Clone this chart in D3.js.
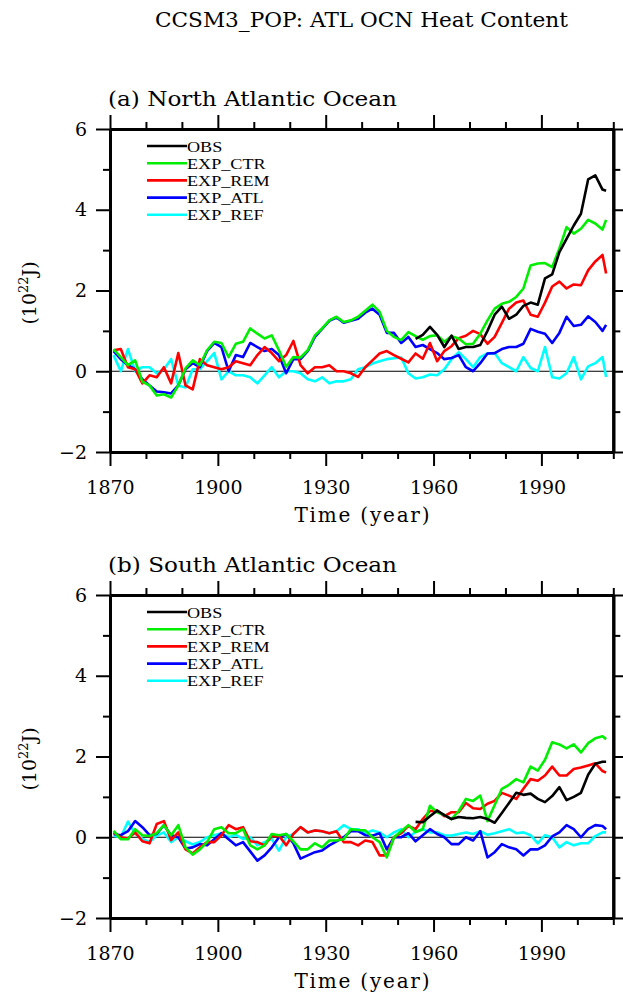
<!DOCTYPE html>
<html>
<head>
<meta charset="utf-8">
<script src="https://cdn.jsdelivr.net/npm/d3@7"></script>
<style>
  body { margin: 0; background: #fff; }
  svg { display: block; }
</style>
</head>
<body>
<div id="wrap"></div>
<script>
// years: odd years 1871..2007 plus the last year 2008
var years = d3.range(1871, 2008, 2).concat([2008]);

var seriesNames = ["OBS", "EXP_CTR", "EXP_REM", "EXP_ATL", "EXP_REF"];
var seriesColors = ["#000000", "#00ee00", "#ff0000", "#0000ff", "#00ffff"];

var xTicksMajor = [1870, 1900, 1930, 1960, 1990];
var xTicksMinor = [1880, 1890, 1910, 1920, 1940, 1950, 1970, 1980, 2000, 2010];
var yTicksMajor = [-2, 0, 2, 4, 6];
var yTicksMinor = [-1, 1, 3, 5];

var N = null;

// (a) North Atlantic
var obsA = [
  N, N, N, N, N, N, N, N, N, N,
  N, N, N, N, N, N, N, N, N, N,
  N, N, N, N, N, N, N, N, N, N,
  N, N, N, N, N, N, N, N, N, N,
  N, N, 0.8, 0.9, 1.1, 0.9, 0.6, 0.88, 0.55, 0.6,
  0.6, 0.65, 1.0, 1.4, 1.6, 1.3, 1.4, 1.62, 1.7, 1.65,
  2.3, 2.4, 2.95, 3.28, 3.61, 3.9, 4.75, 4.85, 4.5, 4.47];
var ctrA = [
  0.54, 0.35, 0.15, 0.27, -0.26, -0.35, -0.6, -0.57, -0.65, -0.35,
  0.07, 0.27, 0.15, 0.52, 0.73, 0.70, 0.35, 0.68, 0.73, 1.06,
  0.93, 0.81, 0.89, 0.52, 0.11, 0.35, 0.34, 0.52, 0.89, 1.06,
  1.26, 1.35, 1.22, 1.26, 1.35, 1.5, 1.65, 1.47, 1.0, 0.85,
  0.77, 0.97, 0.87, 0.78, 0.87, 0.89, 0.73, 0.87, 0.81, 0.67,
  0.68, 0.93, 1.26, 1.55, 1.67, 1.72, 1.84, 2.05, 2.62, 2.67,
  2.68, 2.58, 3.04, 3.57, 3.41, 3.53, 3.75, 3.66, 3.51, 3.75];
var remA = [
  0.52, 0.55, 0.1, 0.05, -0.3, -0.1, -0.15, 0.1, -0.3, 0.45,
  -0.35, -0.45, 0.3, 0.15, 0.1, 0.05, 0.1, 0.25, 0.2, 0.15,
  0.4, 0.6, 0.45, 0.25, 0.4, 0.75, 0.15, -0.05, 0.1, 0.1,
  0.15, 0.0, 0.0, -0.05, -0.14, 0.1, 0.27, 0.44, 0.5, 0.4,
  0.31, 0.22, 0.44, 0.31, 0.7, 0.25, 0.5, 0.62, 0.82, 0.88,
  1.0, 0.92, 0.68, 0.85, 1.2, 1.55, 1.7, 1.75, 1.4, 1.35,
  1.7, 2.1, 2.22, 2.05, 2.15, 2.13, 2.5, 2.72, 2.88, 2.42];
var atlA = [
  0.5, 0.3, 0.15, 0.05, -0.2, -0.35, -0.5, -0.52, -0.55, -0.35,
  0.05, 0.2, 0.1, 0.5, 0.7, 0.6, 0.0, 0.4, 0.35, 0.7,
  0.6, 0.5, 0.55, 0.4, -0.05, 0.3, 0.3, 0.5, 0.85, 1.05,
  1.25, 1.33, 1.2, 1.25, 1.3, 1.45, 1.55, 1.4, 0.95, 0.95,
  0.7, 0.85, 0.6, 0.65, 0.55, 0.45, 0.3, 0.33, 0.4, 0.1,
  0.0, 0.2, 0.44, 0.45, 0.55, 0.6, 0.6, 0.68, 1.05, 0.98,
  0.93, 0.7, 0.95, 1.35, 1.12, 1.15, 1.36, 1.22, 1.0, 1.15];
var refA = [
  0.4, 0.0, 0.55, 0.0, 0.1, 0.1, -0.05, 0.05, 0.3, -0.35,
  -0.4, 0.05, 0.05, 0.25, 0.45, -0.2, 0.0, -0.1, -0.1, -0.15,
  -0.3, -0.1, 0.1, -0.15, 0.0, 0.0, -0.05, -0.2, -0.25, -0.15,
  -0.3, -0.25, -0.25, -0.2, 0.05, 0.1, 0.19, 0.25, 0.3, 0.32,
  0.34, -0.05, -0.18, -0.15, -0.08, -0.1, 0.05, 0.3, 0.47, 0.3,
  0.1, 0.35, 0.44, 0.45, 0.2, 0.1, 0.0, 0.35, 0.08, 0.0,
  0.6, -0.15, -0.18, -0.05, 0.35, -0.2, 0.12, 0.2, 0.35, -0.14];

// (b) South Atlantic
var obsB = [
  N, N, N, N, N, N, N, N, N, N,
  N, N, N, N, N, N, N, N, N, N,
  N, N, N, N, N, N, N, N, N, N,
  N, N, N, N, N, N, N, N, N, N,
  N, N, 0.38, 0.37, 0.52, 0.66, 0.55, 0.45, 0.5, 0.48,
  0.47, 0.5, 0.45, 0.36, 0.6, 0.85, 1.1, 1.05, 1.08, 0.95,
  0.87, 1.02, 1.24, 0.92, 1.0, 1.1, 1.55, 1.82, 1.87, 1.87];
var ctrB = [
  0.16, -0.05, -0.05, 0.2, 0.05, 0.03, 0.1, 0.3, 0.05, 0.3,
  -0.25, -0.43, -0.3, -0.12, 0.2, 0.25, 0.1, 0.1, 0.2, -0.2,
  -0.3, -0.2, 0.08, 0.05, 0.08, -0.1, -0.3, -0.3, -0.15, -0.25,
  -0.08, -0.08, -0.05, 0.2, 0.18, 0.17, 0.0, -0.12, -0.5, 0.0,
  0.15, 0.3, 0.13, 0.2, 0.78, 0.62, 0.55, 0.45, 0.65, 0.95,
  0.9, 1.03, 0.4, 0.8, 1.2, 1.3, 1.44, 1.36, 1.75, 1.65,
  1.92, 2.35, 2.3, 2.2, 2.3, 2.1, 2.33, 2.45, 2.5, 2.43];
var remB = [
  0.12, 0.0, -0.03, 0.12, -0.1, -0.15, 0.33, 0.4, -0.07, 0.12,
  -0.3, -0.4, -0.25, -0.12, -0.12, 0.05, 0.3, 0.2, 0.25, -0.1,
  -0.12, -0.2, 0.03, 0.04, -0.2, 0.08, 0.25, 0.12, 0.17, 0.15,
  0.1, 0.15, -0.12, -0.12, -0.2, -0.08, -0.12, -0.45, -0.45, 0.0,
  0.1, 0.28, 0.2, 0.45, 0.65, 0.66, 0.52, 0.62, 0.62, 0.85,
  0.72, 0.7, 0.83, 0.9, 1.1, 1.03, 0.95, 1.2, 1.44, 1.4,
  1.53, 1.75, 1.53, 1.53, 1.69, 1.73, 1.78, 1.83, 1.64, 1.6];
var atlB = [
  0.08, 0.05, 0.15, 0.4, 0.25, 0.05, 0.08, 0.3, 0.05, 0.0,
  -0.28, -0.25, -0.17, -0.2, -0.05, 0.1, -0.05, -0.2, -0.12, -0.35,
  -0.58, -0.45, -0.25, 0.0, 0.08, -0.15, -0.53, -0.45, -0.37, -0.33,
  -0.2, -0.1, 0.0, 0.15, 0.15, 0.05, 0.04, 0.1, -0.3, 0.0,
  0.0, 0.1, -0.1, 0.05, 0.2, 0.08, 0.0, -0.17, -0.17, 0.0,
  -0.08, 0.15, -0.5, -0.37, -0.17, -0.25, -0.3, -0.45, -0.3, -0.3,
  -0.2, 0.02, 0.12, 0.3, 0.2, 0.0, 0.2, 0.3, 0.28, 0.2];
var refB = [
  0.04, 0.0, 0.39, 0.08, -0.04, -0.12, 0.04, 0.12, -0.12, 0.0,
  -0.1, -0.18, -0.12, 0.0, 0.05, 0.1, 0.0, 0.06, -0.04, 0.0,
  -0.2, -0.12, -0.04, -0.33, 0.0, 0.08, 0.25, 0.12, 0.17, 0.15,
  0.1, 0.15, 0.3, 0.2, 0.2, 0.1, 0.17, 0.12, 0.0, 0.12,
  0.2, 0.0, 0.13, 0.2, 0.12, 0.12, 0.05, 0.04, 0.08, 0.12,
  0.08, 0.15, 0.06, 0.1, 0.15, 0.2, 0.1, 0.12, 0.05, -0.15,
  0.05, 0.0, -0.25, -0.12, -0.2, -0.15, -0.15, 0.03, 0.12, 0.12];

var panels = [
  { title: "(a) North Atlantic Ocean", top: 129, series: [obsA, ctrA, remA, atlA, refA] },
  { title: "(b) South Atlantic Ocean", top: 595, series: [obsB, ctrB, remB, atlB, refB] }
];

var serif = "'DejaVu Serif', serif";
var legendFont = "'Liberation Serif', 'Times New Roman', serif";

var svg = d3.select('#wrap')
  .append('svg')
  .attr("width", 623)
  .attr("height", 997);

svg.append("text")
  .attr("x", 361.5)
  .attr("y", 27)
  .attr("text-anchor", "middle")
  .attr("font-family", serif)
  .attr("font-size", "21px")
  .attr("textLength", 413)
  .attr("lengthAdjust", "spacingAndGlyphs")
  .text("CCSM3_POP: ATL OCN Heat Content");

var left = 110, right = 613.3, plotH = 323;

var x = d3.scaleLinear().domain([1870, 2010]).range([left, right]);

panels.forEach(function (p) {
  var y = d3.scaleLinear().domain([-2, 6]).range([p.top + plotH, p.top]);
  var g = svg.append("g");

  // zero line
  g.append("line")
    .attr("x1", left).attr("x2", right)
    .attr("y1", y(0)).attr("y2", y(0))
    .attr("stroke", "#000").attr("stroke-width", 1);

  // lines drawn back to front: REF, ATL, REM, CTR, OBS
  var line = d3.line()
    .defined(function (d) { return d[1] !== null; })
    .x(function (d) { return x(d[0]); })
    .y(function (d) { return y(d[1]); });

  for (var k = p.series.length - 1; k >= 0; k--) {
    var pts = years.map(function (yr, i) { return [yr, p.series[k][i]]; });
    g.append("path")
      .attr("d", line(pts))
      .attr("fill", "none")
      .attr("stroke", seriesColors[k])
      .attr("stroke-width", 2.6)
      .attr("stroke-linejoin", "round");
  }

  // axes: major and minor ticks on all sides, pointing out
  function styleAxis(sel) {
    sel.selectAll("line").attr("stroke-width", 2);
    sel.selectAll("path.domain").attr("stroke-width", 3);
    sel.attr("font-family", serif).attr("font-size", "19px");
    sel.selectAll("text").attr("fill", "#000");
  }

  var bottomY = p.top + plotH;
  g.append("g").attr("transform", "translate(0," + bottomY + ")")
    .call(d3.axisBottom(x).tickValues(xTicksMinor).tickSize(7).tickSizeOuter(0).tickFormat(""))
    .call(styleAxis);
  g.append("g").attr("transform", "translate(0," + bottomY + ")")
    .call(d3.axisBottom(x).tickValues(xTicksMajor).tickSize(14).tickSizeOuter(0)
      .tickPadding(15).tickFormat(d3.format("d")))
    .call(styleAxis);
  g.append("g").attr("transform", "translate(0," + p.top + ")")
    .call(d3.axisTop(x).tickValues(xTicksMinor).tickSize(7).tickSizeOuter(0).tickFormat(""))
    .call(styleAxis);
  g.append("g").attr("transform", "translate(0," + p.top + ")")
    .call(d3.axisTop(x).tickValues(xTicksMajor).tickSize(14).tickSizeOuter(0).tickFormat(""))
    .call(styleAxis);
  g.append("g").attr("transform", "translate(" + left + ",0)")
    .call(d3.axisLeft(y).tickValues(yTicksMinor).tickSize(7).tickSizeOuter(0).tickFormat(""))
    .call(styleAxis);
  g.append("g").attr("transform", "translate(" + left + ",0)")
    .call(d3.axisLeft(y).tickValues(yTicksMajor).tickSize(14).tickSizeOuter(0)
      .tickPadding(9).tickFormat(function (d) { return d < 0 ? "\u2212" + (-d) : d; }))
    .call(styleAxis);
  g.append("g").attr("transform", "translate(" + right + ",0)")
    .call(d3.axisRight(y).tickValues(yTicksMinor).tickSize(7).tickSizeOuter(0).tickFormat(""))
    .call(styleAxis);
  g.append("g").attr("transform", "translate(" + right + ",0)")
    .call(d3.axisRight(y).tickValues(yTicksMajor).tickSize(14).tickSizeOuter(0).tickFormat(""))
    .call(styleAxis);

  // panel title
  g.append("text")
    .attr("x", 108).attr("y", p.top - 23)
    .attr("font-family", serif).attr("font-size", "20px")
    .attr("textLength", 289).attr("lengthAdjust", "spacingAndGlyphs")
    .text(p.title);

  // x axis title
  g.append("text")
    .attr("x", 362).attr("y", bottomY + 70)
    .attr("text-anchor", "middle")
    .attr("font-family", serif).attr("font-size", "20px")
    .attr("textLength", 135).attr("lengthAdjust", "spacing")
    .text("Time (year)");

  // y axis title
  var yl = g.append("text")
    .attr("transform", "translate(36," + (p.top + 164) + ") rotate(-90)")
    .attr("text-anchor", "middle")
    .attr("font-family", serif).attr("font-size", "19px");
  yl.append("tspan").text("(10");
  yl.append("tspan").attr("font-size", "13px").attr("dy", -8).text("22");
  yl.append("tspan").attr("dy", 8).text("J)");

  // legend
  var lg = g.append("g");
  seriesNames.forEach(function (name, i) {
    var ly = p.top + 17 + i * 17.2;
    lg.append("line")
      .attr("x1", 147).attr("x2", 187)
      .attr("y1", ly).attr("y2", ly)
      .attr("stroke", seriesColors[i]).attr("stroke-width", 2.6);
    var t = lg.append("text")
      .attr("x", 187).attr("y", ly + 5.5)
      .attr("font-family", legendFont).attr("font-size", "15.5px")
      .text(name);
    // stretch a little sideways to the reference's wider lettering
    var w = t.node().getComputedTextLength();
    t.attr("textLength", w * 1.17).attr("lengthAdjust", "spacingAndGlyphs");
  });
});
</script>
</body>
</html>
